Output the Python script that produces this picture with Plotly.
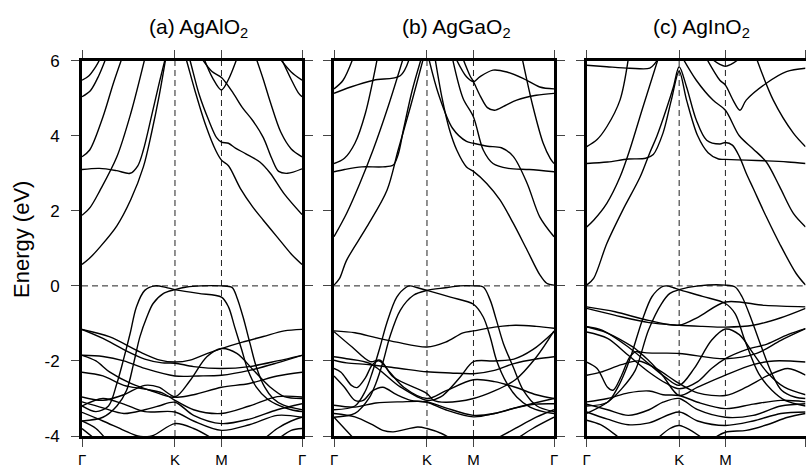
import plotly.graph_objects as go

# High-symmetry path (units of pi/a): Gamma - K - M - Gamma
k_ticks = [0.0, 1.3333, 2.0, 3.1547]
k_labels = ["Γ", "K", "M", "Γ"]
y_ticks = [6, 4, 2, 0, -2, -4]
y_labels = ["6", "4", "2", "0", "-2", "-4"]
titles = ["(a) AgAlO<sub>2</sub>", "(b) AgGaO<sub>2</sub>", "(c) AgInO<sub>2</sub>"]

# ---------------- (a) AgAlO2 : bands as (k, E) samples ----------------
bands_a_cond = [
    [(0, 0.57), (0.1, 0.72), (0.26, 1.04), (0.5, 1.6), (0.7, 2.3), (0.88, 3.17), (1.0, 4.1), (1.1, 5.0), (1.2, 6.05)],
    [(1.45, 6.3), (1.5, 6.0), (1.62, 5.2), (1.77, 4.3), (1.92, 3.6), (2.0, 3.35), (2.1, 3.2), (2.27, 2.6), (2.45, 2.1), (2.6, 1.75), (2.8, 1.3), (3.0, 0.85), (3.155, 0.57)],
    [(0, 1.88), (0.12, 2.1), (0.26, 2.55), (0.5, 3.44), (0.7, 4.6), (0.9, 6.05)],
    [(1.5, 6.3), (1.55, 6.0), (1.68, 5.1), (1.82, 4.4), (1.93, 3.95), (2.0, 3.83), (2.1, 3.8), (2.2, 3.67), (2.35, 3.52), (2.55, 3.3), (2.7, 3.0), (2.9, 2.45), (3.155, 1.9)],
    [(0, 3.1), (0.25, 3.13), (0.5, 3.07), (0.69, 3.0), (0.8, 3.2), (0.88, 3.62), (1.0, 4.55), (1.1, 5.35), (1.2, 6.1)],
    [(0, 3.44), (0.11, 3.62), (0.3, 4.5), (0.45, 5.4), (0.57, 6.05)],
    [(0, 5.48), (0.1, 5.6), (0.2, 5.85), (0.26, 6.05)],
    [(0, 5.04), (0.12, 5.2), (0.24, 5.6), (0.34, 6.05)],
    [(1.75, 6.05), (1.87, 5.55), (2.0, 5.22), (2.1, 5.5), (2.22, 6.05)],
    [(1.72, 6.05), (1.86, 5.72), (2.0, 5.55), (2.17, 5.13), (2.3, 4.75), (2.45, 4.4), (2.6, 3.95), (2.72, 3.4), (2.82, 3.05), (2.95, 3.0), (3.155, 3.12)],
    [(2.5, 6.05), (2.6, 5.5), (2.7, 4.9), (2.85, 4.1), (3.0, 3.65), (3.155, 3.44)],
    [(2.86, 6.05), (3.0, 5.5), (3.1, 5.15), (3.155, 5.04)],
    [(2.84, 6.05), (3.0, 5.7), (3.155, 5.48)],
]
bands_a_val = [
    [(0, -3.2), (0.2, -3.35), (0.38, -3.2), (0.5, -2.6), (0.59, -2.0), (0.69, -1.27), (0.78, -0.56), (0.9, -0.12), (1.05, 0.0), (1.2, -0.04), (1.333, -0.1), (1.67, -0.2), (2.0, -0.3), (2.1, -0.56), (2.19, -1.1), (2.29, -1.7), (2.38, -2.25), (2.5, -2.7), (2.65, -3.0), (2.84, -3.2), (3.0, -3.3), (3.155, -3.35)],
    [(0, -3.6), (0.3, -3.5), (0.5, -3.2), (0.64, -2.78), (0.74, -2.07), (0.83, -1.36), (0.93, -0.83), (1.02, -0.47), (1.17, -0.2), (1.333, -0.1), (1.5, -0.03), (1.7, 0.0), (2.0, 0.0), (2.15, -0.04), (2.22, -0.3), (2.31, -0.83), (2.41, -1.54), (2.5, -2.16), (2.62, -2.7), (2.74, -3.0), (2.89, -3.18), (3.155, -3.3)],
    [(0, -1.16), (0.4, -1.36), (0.83, -1.76), (1.12, -1.98), (1.333, -2.03), (1.55, -1.98), (1.8, -1.8), (2.0, -1.67), (2.3, -1.5), (2.6, -1.35), (2.9, -1.2), (3.155, -1.16)],
    [(0, -1.16), (0.3, -1.4), (0.6, -1.7), (0.9, -1.95), (1.15, -2.05), (1.333, -2.06), (1.6, -2.15), (2.0, -2.2), (2.4, -2.15), (2.8, -2.0), (3.155, -1.85)],
    [(0, -1.85), (0.3, -1.88), (0.6, -2.0), (0.9, -2.2), (1.333, -2.4), (1.67, -2.4), (2.0, -2.38), (2.4, -2.25), (2.8, -2.05), (3.155, -1.85)],
    [(0, -1.85), (0.2, -2.0), (0.4, -2.3), (0.7, -2.6), (1.0, -2.8), (1.333, -2.96), (1.55, -2.52), (1.79, -1.89), (2.0, -1.67), (2.22, -1.8), (2.46, -2.25), (2.7, -2.7), (2.9, -2.95), (3.155, -3.0)],
    [(0, -2.3), (0.3, -2.4), (0.6, -2.65), (0.9, -2.75), (1.15, -2.85), (1.333, -3.05), (1.6, -3.3), (2.0, -3.4), (2.4, -3.2), (2.8, -2.95), (3.155, -2.96)],
    [(0, -2.96), (0.3, -3.05), (0.6, -2.9), (0.9, -2.65), (1.1, -2.7), (1.333, -2.96), (1.6, -2.9), (2.0, -2.7), (2.4, -2.6), (2.8, -2.4), (3.155, -2.3)],
    [(0, -3.09), (0.3, -3.25), (0.6, -3.4), (0.9, -3.3), (1.1, -3.2), (1.333, -3.1), (1.6, -3.45), (2.0, -3.67), (2.4, -3.55), (2.8, -3.3), (3.155, -3.14)],
    [(0, -3.2), (0.3, -3.0), (0.6, -3.15), (0.9, -3.35), (1.333, -3.36), (1.6, -3.6), (2.0, -3.85), (2.4, -3.7), (2.8, -3.45), (3.155, -3.5)],
    [(0, -3.37), (0.3, -3.6), (0.6, -3.85), (0.8, -4.0), (1.0, -4.0), (1.333, -3.67), (1.6, -3.8), (1.9, -4.1)],
    [(0, -3.6), (0.2, -3.8), (0.35, -4.1)],
    [(0, -3.8), (0.1, -3.95), (0.2, -4.1)],
    [(2.6, -4.1), (2.8, -3.8), (3.0, -3.6), (3.155, -3.5)],
    [(2.8, -4.1), (3.0, -3.85), (3.155, -3.8)],
]

# ---------------- (b) AgGaO2 ----------------
bands_b_cond = [
    [(0, 0.02), (0.08, 0.2), (0.18, 0.68), (0.47, 1.57), (0.76, 2.55), (0.92, 3.62), (1.1, 4.8), (1.28, 6.05)],
    [(0, 1.31), (0.18, 1.93), (0.37, 2.73), (0.56, 3.62), (0.78, 4.8), (0.99, 6.05)],
    [(0, 3.04), (0.15, 3.1), (0.4, 3.17), (0.7, 3.17), (0.85, 3.22), (0.92, 3.5), (1.0, 4.2), (1.12, 5.2), (1.25, 6.05)],
    [(0, 3.26), (0.15, 3.4), (0.3, 3.8), (0.45, 4.6), (0.62, 6.05)],
    [(0, 5.13), (0.24, 5.3), (0.57, 5.48), (0.95, 5.6), (1.08, 6.05)],
    [(0, 5.25), (0.13, 5.48), (0.27, 6.05)],
    [(1.45, 6.05), (1.55, 5.0), (1.65, 4.2), (1.76, 3.62), (1.9, 3.17), (2.0, 3.05), (2.19, 2.73), (2.38, 2.29), (2.57, 1.67), (2.77, 0.95), (2.95, 0.3), (3.05, 0.07), (3.155, 0.02)],
    [(1.36, 6.05), (1.5, 5.1), (1.7, 4.2), (1.9, 3.85), (2.0, 3.8), (2.2, 3.72), (2.4, 3.68), (2.57, 3.45), (2.77, 2.73), (2.95, 1.84), (3.155, 1.31)],
    [(1.7, 6.05), (1.85, 5.0), (2.0, 4.5), (2.14, 3.62), (2.28, 3.26), (2.5, 3.13), (2.8, 3.1), (3.155, 3.04)],
    [(2.7, 6.05), (2.85, 4.8), (3.0, 3.8), (3.1, 3.4), (3.155, 3.26)],
    [(1.75, 6.05), (1.9, 5.57), (2.0, 5.44), (2.09, 5.57), (2.28, 5.75), (2.48, 5.7), (2.71, 5.53), (2.95, 5.3), (3.155, 5.25)],
    [(1.85, 6.05), (1.95, 5.6), (2.0, 5.44), (2.1, 5.05), (2.2, 4.75), (2.3, 4.68), (2.45, 4.8), (2.62, 4.95), (2.9, 5.08), (3.155, 5.13)],
]
bands_b_val = [
    [(0, -3.3), (0.3, -3.2), (0.45, -2.8), (0.55, -2.3), (0.66, -1.63), (0.755, -1.0), (0.9, -0.3), (1.04, -0.03), (1.09, 0.0), (1.2, -0.05), (1.333, -0.12), (1.67, -0.3), (2.0, -0.49), (2.14, -0.83), (2.24, -1.36), (2.33, -1.98), (2.48, -2.6), (2.62, -2.96), (2.81, -3.23), (3.0, -3.35), (3.155, -3.4)],
    [(0, -3.5), (0.3, -3.4), (0.5, -3.0), (0.6, -2.6), (0.71, -1.98), (0.8, -1.36), (0.95, -0.65), (1.14, -0.25), (1.333, -0.12), (1.6, -0.05), (1.8, 0.0), (2.0, 0.0), (2.14, -0.03), (2.24, -0.38), (2.33, -0.92), (2.43, -1.54), (2.57, -2.16), (2.72, -2.8), (2.91, -3.2), (3.155, -3.35)],
    [(0, -1.2), (0.3, -1.25), (0.6, -1.38), (0.9, -1.5), (1.333, -1.63), (1.6, -1.5), (1.85, -1.25), (2.0, -1.2), (2.3, -1.1), (2.6, -1.05), (2.9, -1.08), (3.155, -1.13)],
    [(0, -1.22), (0.26, -1.63), (0.52, -2.02), (0.66, -1.98), (0.85, -2.43), (1.333, -2.87), (1.43, -3.05), (1.6, -3.1), (2.0, -3.0), (2.3, -2.8), (2.6, -2.5), (2.9, -1.9), (3.155, -1.2)],
    [(0, -1.98), (0.18, -2.05), (0.52, -2.1), (0.95, -2.2), (1.333, -2.29), (1.67, -2.32), (2.0, -2.34), (2.3, -2.25), (2.58, -2.07), (2.9, -1.95), (3.155, -1.89)],
    [(0, -1.89), (0.18, -1.94), (0.52, -2.07), (0.95, -2.69), (1.333, -3.05), (1.53, -2.96), (1.81, -2.43), (2.0, -2.02), (2.29, -2.0), (2.58, -1.95), (2.85, -1.7), (3.155, -1.22)],
    [(0, -2.2), (0.1, -2.3), (0.25, -2.65), (0.33, -2.71), (0.45, -2.45), (0.55, -2.1), (0.65, -2.0), (0.8, -2.3), (1.0, -2.7), (1.333, -3.0), (1.6, -2.8), (2.0, -2.5), (2.3, -2.55), (2.6, -2.7), (2.9, -2.9), (3.155, -3.0)],
    [(0, -2.4), (0.15, -2.7), (0.3, -3.05), (0.42, -3.05), (0.55, -2.8), (0.7, -2.7), (0.9, -2.9), (1.1, -3.05), (1.333, -3.1), (1.6, -3.3), (2.0, -3.49), (2.3, -3.4), (2.6, -3.25), (2.9, -3.15), (3.155, -3.14)],
    [(0, -3.18), (0.3, -3.23), (0.6, -3.12), (0.95, -3.09), (1.333, -3.09), (1.6, -3.25), (2.0, -3.45), (2.3, -3.4), (2.7, -3.2), (3.155, -3.0)],
    [(0, -3.4), (0.3, -3.49), (0.55, -3.7), (0.7, -3.85), (0.85, -3.89), (1.2, -3.76), (1.333, -3.8), (1.55, -3.94), (1.7, -4.1)],
    [(0, -3.5), (0.15, -3.8), (0.3, -4.1)],
    [(2.3, -4.1), (2.6, -3.8), (2.9, -3.5), (3.155, -3.3)],
    [(2.6, -4.1), (2.85, -3.8), (3.155, -3.5)],
]

# ---------------- (c) AgInO2 ----------------
bands_c_cond = [
    [(0, 0.02), (0.1, 0.2), (0.29, 1.13), (0.52, 2.02), (0.77, 2.9), (0.91, 3.55), (1.01, 3.98), (1.15, 4.72), (1.25, 5.3), (1.333, 5.84), (1.44, 5.3), (1.58, 4.42), (1.73, 3.88), (1.92, 3.78), (2.0, 3.82), (2.1, 3.75), (2.2, 3.45), (2.3, 3.0), (2.4, 2.6), (2.59, 1.84), (2.78, 1.13), (3.02, 0.33), (3.155, 0.02)],
    [(0, 1.57), (0.1, 1.75), (0.29, 2.2), (0.48, 2.9), (0.62, 3.62), (0.8, 4.7), (1.03, 6.05)],
    [(0, 3.26), (0.3, 3.3), (0.6, 3.38), (0.85, 3.4), (0.96, 3.5), (1.1, 4.07), (1.22, 4.95), (1.333, 5.72), (1.44, 4.95), (1.6, 4.0), (1.75, 3.55), (1.9, 3.38), (2.0, 3.37), (2.3, 3.35), (2.6, 3.33), (2.9, 3.3), (3.155, 3.26)],
    [(0, 3.71), (0.15, 3.9), (0.29, 4.24), (0.48, 4.95), (0.6, 6.05)],
    [(0, 5.88), (0.29, 5.84), (0.62, 5.8), (0.91, 5.8), (0.98, 5.92), (1.03, 6.05)],
    [(1.39, 6.05), (1.58, 5.48), (1.82, 4.95), (2.0, 4.68), (2.2, 4.0), (2.4, 3.65), (2.59, 3.3), (2.78, 2.65), (2.98, 1.93), (3.155, 1.57)],
    [(1.73, 6.05), (1.92, 5.48), (2.0, 5.35), (2.11, 4.95), (2.21, 4.68), (2.3, 4.95), (2.59, 5.4), (2.88, 5.71), (3.155, 5.8)],
    [(1.8, 6.05), (1.92, 5.9), (2.0, 5.85), (2.08, 5.9), (2.2, 6.05)],
    [(2.45, 6.05), (2.69, 4.95), (2.98, 4.07), (3.155, 3.71)],
]
bands_c_val = [
    [(0, -3.2), (0.3, -3.1), (0.45, -2.7), (0.55, -2.3), (0.65, -1.8), (0.8, -0.92), (0.94, -0.29), (1.08, -0.03), (1.15, 0.0), (1.25, -0.05), (1.333, -0.1), (1.67, -0.28), (2.0, -0.47), (2.14, -0.74), (2.28, -1.45), (2.48, -2.34), (2.67, -2.78), (2.86, -3.05), (3.155, -3.2)],
    [(0, -3.4), (0.3, -3.1), (0.5, -2.75), (0.7, -2.25), (0.89, -1.18), (1.08, -0.47), (1.2, -0.2), (1.333, -0.1), (1.61, 0.0), (2.0, 0.02), (2.14, -0.03), (2.24, -0.29), (2.38, -0.92), (2.52, -1.63), (2.67, -2.34), (2.81, -2.78), (3.0, -2.96), (3.155, -3.0)],
    [(0, -0.56), (0.41, -0.69), (0.89, -0.92), (1.333, -1.05), (1.61, -0.83), (2.0, -0.43), (2.57, -0.52), (3.155, -0.56)],
    [(0, -0.6), (0.4, -0.78), (0.9, -0.98), (1.333, -1.05), (1.67, -1.08), (2.0, -1.1), (2.4, -1.05), (2.8, -0.85), (3.155, -0.6)],
    [(0, -1.09), (0.29, -1.25), (0.67, -1.63), (0.77, -1.76), (1.333, -1.8), (2.0, -1.94), (2.45, -1.8), (2.8, -1.45), (3.155, -1.14)],
    [(0, -1.09), (0.22, -1.18), (0.6, -1.63), (0.89, -2.07), (1.13, -2.43), (1.333, -2.65), (1.55, -2.2), (1.8, -1.45), (2.0, -1.15), (2.2, -1.3), (2.4, -1.8), (2.6, -2.3), (2.85, -2.7), (3.155, -2.9)],
    [(0, -1.23), (0.3, -1.4), (0.6, -1.85), (0.9, -2.3), (1.15, -2.6), (1.333, -2.74), (1.6, -2.55), (1.8, -2.2), (2.0, -1.94), (2.3, -1.7), (2.6, -1.55), (2.9, -1.3), (3.155, -1.14)],
    [(0, -2.03), (0.15, -2.2), (0.3, -2.7), (0.38, -2.78), (0.5, -2.4), (0.62, -1.9), (0.72, -1.75), (0.9, -2.0), (1.1, -2.4), (1.333, -2.92), (1.6, -2.7), (2.0, -2.38), (2.4, -2.1), (2.7, -2.0), (3.155, -2.03)],
    [(0, -2.38), (0.2, -2.3), (0.5, -2.1), (0.75, -2.0), (1.0, -2.2), (1.333, -2.6), (1.6, -2.85), (2.0, -2.92), (2.3, -2.7), (2.6, -2.4), (2.9, -2.2), (3.155, -2.38)],
    [(0, -3.09), (0.3, -3.0), (0.6, -2.85), (0.9, -2.8), (1.1, -2.9), (1.333, -2.92), (1.6, -3.1), (2.0, -3.27), (2.4, -3.15), (2.8, -3.05), (3.155, -3.09)],
    [(0, -3.15), (0.3, -3.3), (0.6, -3.45), (0.9, -3.3), (1.1, -3.1), (1.333, -3.0), (1.6, -3.3), (2.0, -3.5), (2.4, -3.45), (2.8, -3.2), (3.155, -3.14)],
    [(0, -3.36), (0.3, -3.55), (0.6, -3.7), (0.9, -3.65), (1.333, -3.36), (1.6, -3.6), (2.0, -3.72), (2.4, -3.6), (2.8, -3.4), (3.155, -3.36)],
    [(0, -3.58), (0.2, -3.7), (0.4, -3.95), (0.5, -4.1)],
    [(1.0, -4.1), (1.2, -3.8), (1.333, -3.72), (1.5, -3.85), (1.7, -4.1)],
    [(1.8, -4.1), (2.0, -3.9), (2.3, -3.85), (2.6, -3.7), (2.9, -3.5), (3.155, -3.4)],
]

panels = [bands_a_cond + bands_a_val, bands_b_cond + bands_b_val, bands_c_cond + bands_c_val]

W, H = 806, 469
x_dom = [(82, 302), (334, 554), (586.7, 805.5)]
y_top, y_bot = 60.7, 436.0
title_x = [198, 456, 701]

fig = go.Figure()
layout = dict(
    width=W, height=H, autosize=False,
    margin=dict(l=0, r=0, t=0, b=0, pad=0, autoexpand=False),
    paper_bgcolor="white", plot_bgcolor="white", showlegend=False,
    font=dict(family="Liberation Sans, Arial, sans-serif", color="black"),
)
shapes = []
annotations = []
for i, bands in enumerate(panels):
    sfx = "" if i == 0 else str(i + 1)
    xa, ya = "x" + sfx, "y" + sfx
    for band in bands:
        fig.add_trace(go.Scatter(
            x=[p[0] for p in band], y=[p[1] for p in band], mode="lines",
            line=dict(color="black", width=1.4, shape="spline", smoothing=0.9),
            xaxis=xa, yaxis=ya, hoverinfo="skip"))
    layout["xaxis" + sfx] = dict(
        domain=[x_dom[i][0] / W, x_dom[i][1] / W], range=[0, k_ticks[-1]],
        tickvals=k_ticks, ticktext=k_labels, ticks="outside", ticklen=8, tickwidth=1.3,
        showline=True, linewidth=3, linecolor="black", mirror="ticks",
        showgrid=False, zeroline=False, anchor=ya, fixedrange=True, automargin=False,
        tickfont=dict(size=15), ticklabelstandoff=0)
    yax = dict(
        domain=[1 - y_bot / H, 1 - y_top / H], range=[-4, 6],
        tickvals=y_ticks, ticks="outside", ticklen=8, tickwidth=1.3,
        showline=True, linewidth=3, linecolor="black", mirror="ticks",
        showgrid=False, zeroline=False, anchor=xa, fixedrange=True, automargin=False,
        tickfont=dict(size=17), showticklabels=(i == 0))
    if i == 0:
        yax["ticktext"] = y_labels
        yax["ticklabelstandoff"] = 8
    layout["yaxis" + sfx] = yax
    for kv in (k_ticks[1], k_ticks[2]):
        shapes.append(dict(type="line", xref=xa, yref=ya, x0=kv, x1=kv, y0=-4, y1=6,
                           line=dict(color="#222", width=1, dash="6px,4px"), layer="below"))
    shapes.append(dict(type="line", xref=xa, yref=ya, x0=0, x1=k_ticks[-1], y0=0, y1=0,
                       line=dict(color="#222", width=1, dash="6px,4px"), layer="below"))
    annotations.append(dict(text=titles[i], x=title_x[i] / W, y=1 - 28 / H, xref="paper", yref="paper",
                            showarrow=False, xanchor="center", yanchor="middle", font=dict(size=21)))

annotations.append(dict(text="Energy (eV)", x=21 / W, y=1 - 240 / H, xref="paper", yref="paper",
                        showarrow=False, textangle=-90, xanchor="center", yanchor="middle",
                        font=dict(size=22)))
layout["shapes"] = shapes
layout["annotations"] = annotations
fig.update_layout(**layout)
fig.write_html("out.html")
